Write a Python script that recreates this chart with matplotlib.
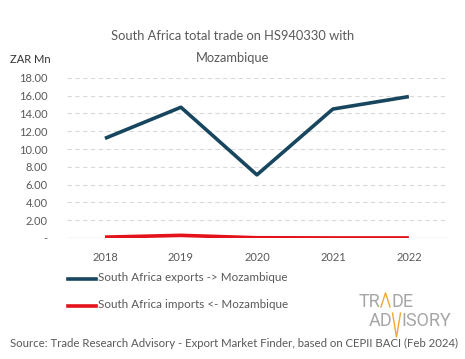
import numpy as np
import matplotlib
matplotlib.use("Agg")
import matplotlib.pyplot as plt
from matplotlib.lines import Line2D

# data (ZAR Mn)
years = ["2018", "2019", "2020", "2021", "2022"]
exports = [11.2, 14.7, 7.1, 14.5, 15.9]
imports = [0.10, 0.30, 0.03, 0.01, 0.01]
yticks = [0, 2, 4, 6, 8, 10, 12, 14, 16, 18]

grey = "#595959"
blue = "#17465e"
red = "#e3121b"

plt.rcParams['font.family'] = ['Lato', 'DejaVu Sans']

fig = plt.figure(figsize=(4.65, 3.59), dpi=100)
ax = fig.add_axes([0.144, 0.337, 0.817, 0.446])

x = np.arange(len(years))
ax.plot(x, exports, color=blue, lw=2.6, solid_capstyle="butt")
ax.plot(x, imports, color=red, lw=2.6, solid_capstyle="butt")

ax.set_xlim(-0.5, len(years) - 0.5)
ax.set_ylim(0, 18)
ax.set_yticks(yticks)
ax.set_yticklabels(["-" if v == 0 else "%.2f" % v for v in yticks])
ax.set_xticks(x)
ax.set_xticklabels(years)
ax.tick_params(axis="both", length=0, labelsize=8, colors=grey)
ax.tick_params(axis="y", pad=14)
ax.tick_params(axis="x", pad=10)

for v in yticks[1:]:
    ax.axhline(v, color="#d9d9d9", lw=0.8, ls=(0, (4, 3)), zorder=0)
ax.axhline(0, color="#d9d9d9", lw=1.0, zorder=0)
for s in ax.spines.values():
    s.set_visible(False)

# title and unit label
fig.text(0.5, 0.899, "South Africa total trade on HS940330 with", ha="center", va="center",
         fontsize=9.3, color=grey)
fig.text(0.5, 0.838, "Mozambique", ha="center", va="center", fontsize=9.3, color=grey)
fig.text(0.022, 0.833, "ZAR Mn", ha="left", va="center", fontsize=8, color="#333333")

# legend drawn by hand
for yy, col, lab in [(0.223, blue, "South Africa exports -> Mozambique"),
                     (0.148, red, "South Africa imports <- Mozambique")]:
    fig.add_artist(Line2D([0.147, 0.206], [yy, yy], color=col, lw=2.6, transform=fig.transFigure))
    fig.text(0.21, yy + 0.003, lab, ha="left", va="center", fontsize=8.4, color=grey)

# logo
lc = "#a6a6a6"
oc = "#f0a830"
logo_font = dict(fontsize=13, color=lc, family="Roboto", va="baseline")
fig.text(380.5 / 465, 0.145, "TR", ha="right", **logo_font)
fig.text(391 / 465, 0.145, "DE", ha="left", **logo_font)
fig.text(392 / 465, 0.092, "AD", ha="right", **logo_font)
fig.text(401.5 / 465, 0.092, "ISORY", ha="left", **logo_font)
fig.add_artist(Line2D([381 / 465, 385.5 / 465, 390 / 465], [0.145, 0.184, 0.145], color=oc, lw=1.0,
                      transform=fig.transFigure))
fig.add_artist(Line2D([392.5 / 465, 396.5 / 465, 400.5 / 465], [0.128, 0.061, 0.128], color=oc, lw=1.0,
                      transform=fig.transFigure))

fig.text(0.022, 0.042, "Source: Trade Research Advisory - Export Market Finder, based on CEPII BACI (Feb 2024)",
         ha="left", va="center", fontsize=8.2, color=grey)

fig.savefig("out.png", dpi=100)
